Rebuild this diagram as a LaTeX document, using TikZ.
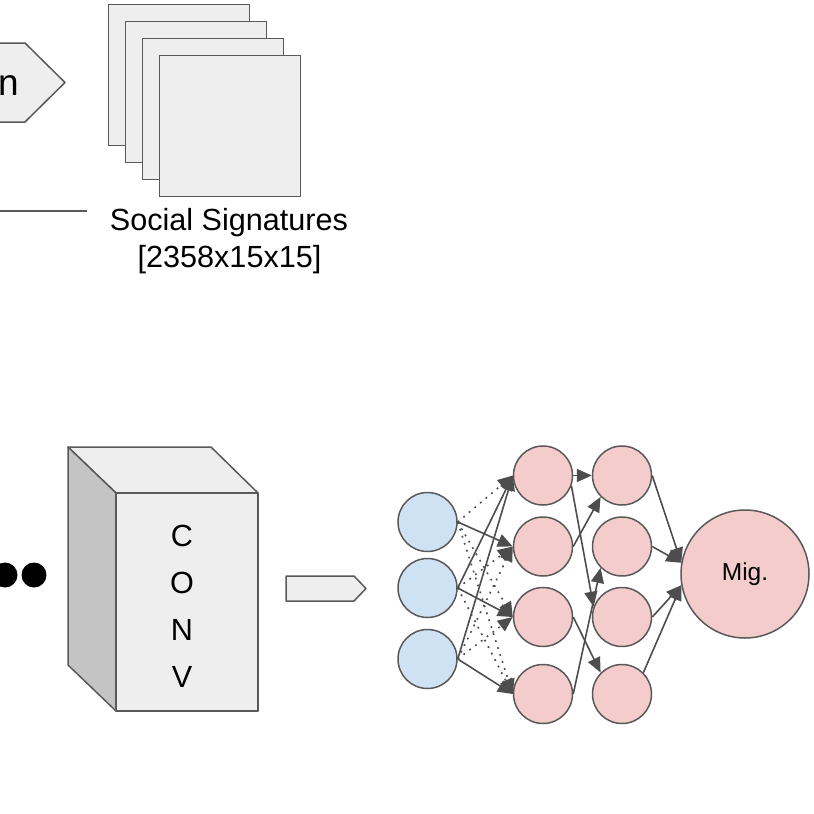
\documentclass[tikz,border=0pt]{standalone}
\usepackage{fontspec}
\setmainfont{Liberation Sans}
\usetikzlibrary{arrows.meta}

\definecolor{edgegray}{HTML}{595959}
\definecolor{linkgray}{HTML}{4D4D4D}
\definecolor{boxgray}{HTML}{EEEEEE}
\definecolor{sidegray}{HTML}{C4C4C4}
\definecolor{inblue}{HTML}{CFE2F3}
\definecolor{hidpink}{HTML}{F4CCCC}

\newcommand\stepfont{\fontsize{37}{44}\selectfont}
\newcommand\sigfont{\fontsize{30.6}{47}\selectfont}
\newcommand\migfont{\fontsize{24.5}{29}\selectfont}

\tikzset{
    neuron/.style={circle,draw=edgegray,line width=1.5pt,minimum size=59pt,inner sep=0pt},
    inneuron/.style={neuron,fill=inblue},
    hidneuron/.style={neuron,fill=hidpink},
    link/.style={->,draw=linkgray,line width=1.6pt},
    dotlink/.style={link,dash pattern=on 1.8pt off 5.5pt},
    sheet/.style={draw=edgegray,fill=boxgray,line width=1.5pt,minimum size=141pt,inner sep=0pt},
    plate/.style={draw=edgegray,line width=1.5pt,line join=round}
}

\begin{document}
\begin{tikzpicture}[x=1pt,y=-1pt,>={Triangle[length=15pt,width=13pt]}]
                \useasboundingbox (0,0) rectangle (814,814);
                \clip (0,0) rectangle (814,814);
                \draw [plate,fill=boxgray] (-80,43) -- (25,43) -- (65,82.5) -- (25,122) -- (-80,122) -- cycle;
                \node [anchor=base east,inner sep=0pt,font=\stepfont] (stepname) at (19,95) {n};
                \coordinate (rulestart) at (-10,211);
                \coordinate (ruleend) at (87,211);
                \draw [edgegray,line width=1.5pt] (rulestart) -- (ruleend);
                \node [sheet] (sheet1) at (179,75) {};
                \node [sheet] (sheet2) at (196,92) {};
                \node [sheet] (sheet3) at (213,109) {};
                \node [sheet] (sheet4) at (230,126) {};
                \node [anchor=base,inner sep=0pt,font=\sigfont] (siglabel) at (229,230) {Social Signatures};
                \node [anchor=base,inner sep=0pt,font=\sigfont] (dimlabel) at (229.5,267) {[2358x15x15]};
                \fill (5,575) circle [radius=12.5];
                \fill (34,575) circle [radius=12.5];
                \draw [plate,fill=boxgray] (68,447) -- (211,447) -- (258,493) -- (116,493) -- cycle;
                \draw [plate,fill=sidegray] (68,447) -- (116,493) -- (116,711) -- (68,665) -- cycle;
                \node [plate,fill=boxgray,minimum width=142pt,minimum height=218pt,inner sep=0pt] (convface) at (187,602) {};
                \node [align=center,inner sep=0pt,font=\sigfont] (convtext) at (182,606) {C\\O\\N\\V};
                \draw [plate,fill=boxgray] (286,576) -- (354,576) -- (366,588.5) -- (354,601) -- (286,601) -- cycle;
                \node [inneuron] (in1) at (427.5,522) {};
                \node [inneuron] (in2) at (427.5,588) {};
                \node [inneuron] (in3) at (427.5,659) {};
                \node [hidneuron] (h11) at (543,475.5) {};
                \node [hidneuron] (h12) at (543,546.5) {};
                \node [hidneuron] (h13) at (543,617) {};
                \node [hidneuron] (h14) at (543,694) {};
                \node [hidneuron] (h21) at (622,475.5) {};
                \node [hidneuron] (h22) at (622,546.5) {};
                \node [hidneuron] (h23) at (622,617) {};
                \node [hidneuron] (h24) at (622,694) {};
                \node [neuron,fill=hidpink,minimum size=128pt,font=\migfont] (mig) at (745,574) {Mig.};
                \draw [dotlink] (in1.east) -- (h11.west);
                \draw [dotlink] (in1.east) -- (h13.west);
                \draw [dotlink] (in1.east) -- (h14.west);
                \draw [dotlink] (in2.east) -- (h12.west);
                \draw [dotlink] (in2.east) -- (h14.west);
                \draw [dotlink] (in3.east) -- (h12.west);
                \draw [dotlink] (in3.east) -- (h13.west);
                \draw [link] (in1.east) -- (h12.west);
                \draw [link] (in2.east) -- (h11.west);
                \draw [link] (in2.east) -- (h13.west);
                \draw [link] (in3.east) -- (h11.west);
                \draw [link] (in3.east) -- (h14.west);
                \draw [link] (h11.east) -- (h21.west);
                \draw [link] (h11.-20) -- (h23.160);
                \draw [link] (h12.east) -- (h21.south west);
                \draw [link] (h13.east) -- (h24.north west);
                \draw [link] (h14.east) -- (h22.south west);
                \draw [link] (h21.east) -- (mig.170);
                \draw [link] (h22.east) -- (mig.170);
                \draw [link] (h23.east) -- (mig.190);
                \draw [link] (h24.north east) -- (mig.190);
            \end{tikzpicture}
\end{document}
